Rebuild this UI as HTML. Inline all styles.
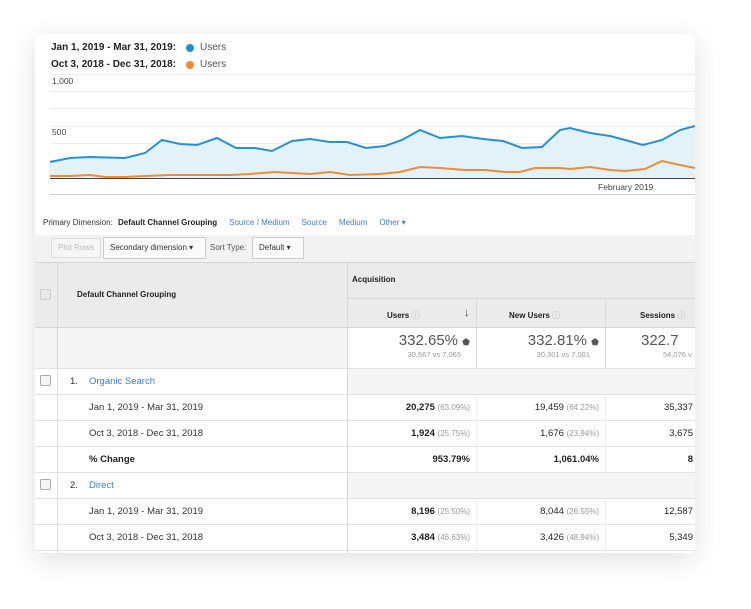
<!DOCTYPE html>
<html><head><meta charset="utf-8"><style>
body{margin:0;width:751px;height:609px;background:#fff;font-family:"Liberation Sans",sans-serif;position:relative;overflow:hidden}
.card{position:absolute;left:35px;top:34px;width:660px;height:519px;background:#fff;box-shadow:0 6px 28px rgba(0,0,0,.13);border-radius:4px;overflow:hidden}
.a{position:absolute;white-space:nowrap}
.b{font-weight:bold}
.hl{position:absolute;left:0;width:660px;height:1px;background:#e2e2e2}
.vl{position:absolute;width:1px;background:#d8d8d8}
.n{font-size:9.5px;color:#222;text-align:right}
.p{color:#999;font-weight:normal;font-size:8px}
.cb{position:absolute;left:5px;width:9px;height:9px;border:1px solid #aaa;border-radius:2px;background:#f4f4f4}
</style></head><body>
<div class="card">
<div class="a b" style="left:16px;top:8px;font-size:10px;color:#222">Jan 1, 2019 - Mar 31, 2019:</div>
<div class="a" style="left:151px;top:10px;width:8px;height:8px;border-radius:50%;background:#1e8ed8"></div>
<div class="a" style="left:165px;top:8px;font-size:10px;color:#555">Users</div>
<div class="a b" style="left:16px;top:25px;font-size:10px;color:#222">Oct 3, 2018 - Dec 31, 2018:</div>
<div class="a" style="left:151px;top:27px;width:8px;height:8px;border-radius:50%;background:#ef8b34"></div>
<div class="a" style="left:165px;top:25px;font-size:10px;color:#555">Users</div>
<svg class="a" style="left:0;top:0" width="660" height="200" viewBox="35 34 660 200">
<g stroke="#ececec" stroke-width="1">
<line x1="50" y1="74.5" x2="695" y2="74.5"/><line x1="50" y1="91.5" x2="695" y2="91.5"/><line x1="50" y1="108.5" x2="695" y2="108.5"/><line x1="50" y1="126.5" x2="695" y2="126.5"/><line x1="50" y1="143.5" x2="695" y2="143.5"/><line x1="50" y1="160.5" x2="695" y2="160.5"/><line x1="50" y1="194.5" x2="695" y2="194.5" stroke="#ccc"/></g>
<polygon fill="#e3f1f9" points="50,178 50,162 70,158 90,157 125,158 145,153 162,140 180,144 197,145 217,138 236,148 255,148 272,151 292,141 310,139 330,142 347,142 366,148 385,146 402,140 420,130 440,138 462,136 483,139 503,141 522,148 542,147 560,130 570,128 590,133 610,136 625,140 643,145 662,140 680,130 695,126 695,178"/>
<polyline fill="none" stroke="#2a8fd3" stroke-width="2" points="50,162 70,158 90,157 125,158 145,153 162,140 180,144 197,145 217,138 236,148 255,148 272,151 292,141 310,139 330,142 347,142 366,148 385,146 402,140 420,130 440,138 462,136 483,139 503,141 522,148 542,147 560,130 570,128 590,133 610,136 625,140 643,145 662,140 680,130 695,126"/>
<polyline fill="none" stroke="#ef8b34" stroke-width="2" points="50,176 70,176 90,175 105,177 125,177 145,176 170,175 200,175 230,175 250,174 275,172 310,174 330,172 350,175 380,174 400,172 420,167 440,168 465,170 485,170 505,172 520,172 535,168 560,168 570,169 590,167 610,170 625,171 645,169 662,161 680,165 695,168"/>
<line x1="50" y1="178.5" x2="695" y2="178.5" stroke="#444" stroke-width="1"/>
<text x="52" y="84" font-size="8.5" fill="#444" font-family="Liberation Sans">1,000</text>
<text x="52" y="135" font-size="8.5" fill="#444" font-family="Liberation Sans">500</text>
<text x="598" y="190" font-size="8.5" fill="#444" font-family="Liberation Sans">February 2019</text>
</svg>
<div class="a" style="left:8px;top:184px;font-size:8px;color:#333">Primary Dimension: <b style="color:#222;margin-left:3px">Default Channel Grouping</b><span style="color:#3f7fc0;margin-left:12px">Source / Medium</span><span style="color:#3f7fc0;margin-left:12px">Source</span><span style="color:#3f7fc0;margin-left:12px">Medium</span><span style="color:#3f7fc0;margin-left:12px">Other ▾</span></div>
<div class="a" style="left:0;top:201px;width:660px;height:27px;background:#f2f2f2"></div>
<div class="a" style="left:16px;top:204px;width:48px;height:18px;border:1px solid #ddd;background:#f6f6f6;font-size:8px;color:#bbb;line-height:18px;text-align:center">Plot Rows</div>
<div class="a" style="left:68px;top:203px;width:101px;height:20px;border:1px solid #ccc;background:#fafafa;font-size:8px;color:#333;line-height:20px;text-indent:6px">Secondary dimension ▾</div>
<div class="a" style="left:175px;top:209px;font-size:8px;color:#555">Sort Type:</div>
<div class="a" style="left:217px;top:203px;width:50px;height:20px;border:1px solid #ccc;background:#fafafa;font-size:8px;color:#333;line-height:20px;text-indent:6px">Default ▾</div>
<div class="a" style="left:0;top:228px;width:660px;height:65px;background:#ebebeb"></div>
<div class="a" style="left:312px;top:264px;width:348px;height:0;border-top:1px solid #d8d8d8"></div>
<div class="a" style="left:0;top:293px;width:312px;height:41px;background:#f5f5f5"></div>
<div class="a" style="left:312px;top:334px;width:348px;height:26px;background:#f5f5f5"></div>
<div class="a" style="left:312px;top:438px;width:348px;height:26px;background:#f5f5f5"></div>
<div class="hl" style="top:228px;background:#d5d5d5"></div>
<div class="hl" style="top:293px;background:#d5d5d5"></div>
<div class="hl" style="top:334px"></div><div class="hl" style="top:360px"></div><div class="hl" style="top:386px"></div><div class="hl" style="top:412px"></div><div class="hl" style="top:438px"></div><div class="hl" style="top:464px"></div><div class="hl" style="top:490px"></div><div class="hl" style="top:516px"></div>
<div class="vl" style="left:22px;top:228px;height:291px"></div>
<div class="vl" style="left:312px;top:228px;height:291px"></div>
<div class="vl" style="left:441px;top:264px;height:70px"></div>
<div class="vl" style="left:570px;top:264px;height:70px"></div>
<div class="vl" style="left:441px;top:360px;height:78px;background:#eee"></div>
<div class="vl" style="left:570px;top:360px;height:78px;background:#eee"></div>
<div class="vl" style="left:570px;top:464px;height:55px;background:#eee"></div>
<div class="vl" style="left:441px;top:464px;height:55px;background:#eee"></div>
<div class="cb" style="top:255px;background:#e8e8e8;border-color:#ccc"></div>
<div class="a b" style="left:42px;top:256px;font-size:8px;color:#222">Default Channel Grouping</div>
<div class="a b" style="left:317px;top:241px;font-size:8px;color:#222">Acquisition</div>
<div class="a b" style="left:352px;top:276px;font-size:8px;color:#222">Users <span style="color:#ccc">ⓘ</span></div><div class="a" style="left:429px;top:273px;font-size:11px;color:#444">↓</div>
<div class="a b" style="left:474px;top:276px;font-size:8px;color:#222">New Users <span style="color:#ccc">ⓘ</span></div>
<div class="a b" style="left:605px;top:276px;font-size:8px;color:#222">Sessions <span style="color:#ccc">ⓘ</span></div>
<div class="a n" style="left:312px;top:298px;width:123px;font-size:15px;color:#555">332.65% <span style="font-size:9px">⬟</span></div>
<div class="a n" style="left:312px;top:316px;width:114px;font-size:7.5px;color:#999">30,567 vs 7,065</div>
<div class="a n" style="left:441px;top:298px;width:123px;font-size:15px;color:#555">332.81% <span style="font-size:9px">⬟</span></div>
<div class="a n" style="left:441px;top:316px;width:114px;font-size:7.5px;color:#999">30,301 vs 7,001</div>
<div class="a" style="left:606px;top:298px;font-size:15px;color:#555">322.7</div>
<div class="a" style="left:628px;top:316px;font-size:7.5px;color:#999">54,076 v</div>
<div class="cb" style="top:341px"></div>
<div class="a" style="left:35px;top:342px;font-size:9.5px;color:#333">1.</div><div class="a" style="left:54px;top:342px;font-size:9.5px;color:#3f7fc0">Organic Search</div>
<div class="a" style="left:54px;top:368px;font-size:9.5px;color:#333">Jan 1, 2019 - Mar 31, 2019</div>
<div class="a" style="left:54px;top:394px;font-size:9.5px;color:#333">Oct 3, 2018 - Dec 31, 2018</div>
<div class="a b" style="left:54px;top:420px;font-size:9.5px;color:#222">% Change</div>
<div class="cb" style="top:445px"></div>
<div class="a" style="left:35px;top:446px;font-size:9.5px;color:#333">2.</div><div class="a" style="left:54px;top:446px;font-size:9.5px;color:#3f7fc0">Direct</div>
<div class="a" style="left:54px;top:472px;font-size:9.5px;color:#333">Jan 1, 2019 - Mar 31, 2019</div>
<div class="a" style="left:54px;top:498px;font-size:9.5px;color:#333">Oct 3, 2018 - Dec 31, 2018</div>
<div class="a n" style="left:312px;top:368px;width:123px"><b>20,275</b> <span class="p">(63.09%)</span></div>
<div class="a n" style="left:312px;top:394px;width:123px"><b>1,924</b> <span class="p">(25.75%)</span></div>
<div class="a n b" style="left:312px;top:420px;width:123px">953.79%</div>
<div class="a n" style="left:312px;top:472px;width:123px"><b>8,196</b> <span class="p">(25.50%)</span></div>
<div class="a n" style="left:312px;top:498px;width:123px"><b>3,484</b> <span class="p">(46.63%)</span></div>
<div class="a n" style="left:441px;top:368px;width:123px">19,459 <span class="p">(64.22%)</span></div>
<div class="a n" style="left:441px;top:394px;width:123px">1,676 <span class="p">(23.94%)</span></div>
<div class="a n b" style="left:441px;top:420px;width:123px">1,061.04%</div>
<div class="a n" style="left:441px;top:472px;width:123px">8,044 <span class="p">(26.55%)</span></div>
<div class="a n" style="left:441px;top:498px;width:123px">3,426 <span class="p">(48.94%)</span></div>
<div class="a n" style="left:570px;top:368px;width:88px">35,337</div>
<div class="a n" style="left:570px;top:394px;width:88px">3,675</div>
<div class="a n b" style="left:570px;top:420px;width:88px">8</div>
<div class="a n" style="left:570px;top:472px;width:88px">12,587</div>
<div class="a n" style="left:570px;top:498px;width:88px">5,349</div>
</div>
</body></html>
